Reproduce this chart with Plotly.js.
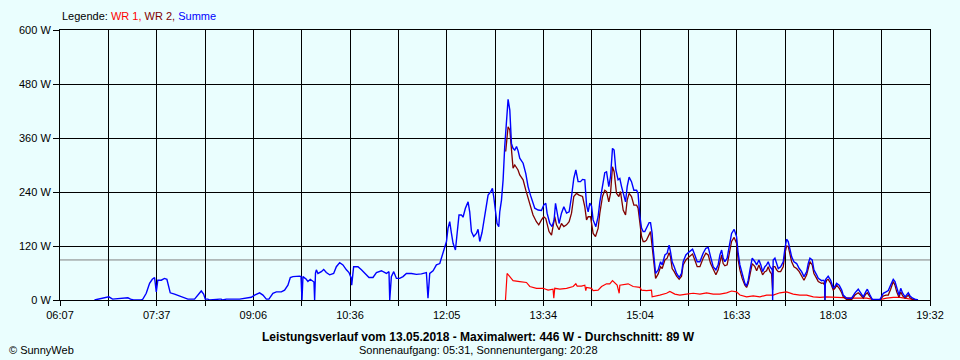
<!DOCTYPE html>
<html><head><meta charset="utf-8">
<script src="https://cdn.plot.ly/plotly-3.0.1.min.js"></script>
<style>html,body{margin:0;padding:0;background:#EAFEFE;} #chart{width:960px;height:360px;}</style>
</head><body><div id="chart"></div>
<script>
// Times are minutes after midnight, values in W
const summeTime = [398.9,402.0,412.2,415.6,429.8,432.3,435.0,442.2,443.7,446.8,449.9,452.4,454.5,456.1,457.5,460.7,463.7,465.9,466.8,469.0,473.0,480.7,485.3,491.5,494.6,497.7,499.9,501.4,503.8,505.4,514.7,516.2,517.4,520.9,533.2,539.4,544.0,547.1,551.7,554.8,557.9,560.3,564.0,567.2,571.8,574.8,577.9,580.1,582.5,588.7,590.0,590.9,591.8,594.9,596.4,598.6,601.0,602.0,602.6,603.4,604.2,605.7,608.8,611.0,613.4,616.5,620.2,622.7,625.8,628.8,632.0,634.4,636.6,636.9,638.7,642.7,645.9,648.9,652.9,656.6,659.8,664.4,669.0,671.4,672.1,673.6,675.8,678.3,681.3,684.4,687.5,692.2,696.8,701.4,706.0,707.5,709.1,712.2,715.3,718.4,721.4,724.6,726.0,727.6,729.2,730.7,732.9,734.4,736.2,738.4,739.9,742.1,744.6,746.1,747.7,749.8,752.3,753.8,755.4,757.5,760.0,763.1,765.6,767.1,768.3,770.2,771.4,773.0,773.9,775.5,777.0,778.5,780.1,781.6,783.2,784.7,786.2,787.8,789.4,790.8,792.4,795.5,798.0,800.1,802.3,804.7,806.3,809.4,812.5,814.6,816.5,817.7,820.2,822.3,824.2,825.5,827.0,828.8,831.0,833.2,835.7,838.1,840.3,842.4,844.3,846.4,848.6,850.5,852.6,854.2,855.7,857.2,858.8,860.3,862.8,864.9,866.5,869.0,871.1,872.7,874.8,876.4,878.2,879.7,881.3,883.4,885.0,886.6,888.7,890.3,891.8,893.6,895.8,898.0,900.5,901.9,903.5,905.1,906.6,908.1,909.7,912.1,913.4,914.9,915.8,916.5,917.4,918.1,920.5,922.7,924.2,926.7,928.8,930.6,931.9,933.4,935.3,937.5,939.9,942.1,943.6,946.1,949.2,952.3,954.4,956.6,959.1,962.1,964.6,966.8,969.0,971.4,973.9,976.0,977.6,979.2,980.6,982.2,984.3,986.2,988.4,990.8,993.0,994.5,996.1,998.2,1000.7,1002.3,1003.8,1005.4,1007.5,1010.0,1011.6,1013.7,1015.5,1017.1,1019.2,1020.8,1022.3,1023.9,1025.4,1026.1,1026.4,1026.9,1028.5,1030.1,1031.6,1033.8,1036.2,1037.8,1039.3,1040.8,1042.4,1044.0,1046.1,1048.6,1051.0,1053.2,1055.4,1057.9,1059.3,1060.9,1063.0,1064.6,1067.1,1068.6,1071.7,1073.2,1074.5,1074.8,1075.2,1076.4,1077.8,1080.1,1082.5,1084.0,1085.6,1088.0,1090.3,1091.7,1094.9,1099.5,1102.6,1105.6,1107.8,1110.3,1112.5,1114.0,1116.5,1118.6,1125.7,1128.8,1131.3,1133.4,1135.6,1138.0,1139.6,1141.2,1143.3,1144.9,1146.7,1148.9,1150.4,1151.9,1153.5,1156.0,1159.0,1160.9];
const summeW = [0,2,7,2,5,2,0,0,2,15,37,46,50,18,44,44,48,46,37,16,13,7,2,2,11,20,13,2,2,0,2,2,0,2,2,4,6,11,16,11,2,2,15,18,18,22,33,50,52,53,52,0,52,46,41,46,41,40,0,60,67,59,63,68,61,56,59,74,83,78,67,61,48,33,74,74,67,59,50,50,61,65,59,63,0,52,63,48,48,52,59,59,57,58,61,4,59,65,78,81,104,130,159,174,148,126,111,141,189,189,184,204,218,196,152,141,148,157,130,150,185,233,241,248,230,185,170,163,196,222,267,341,407,446,422,348,337,333,341,332,315,304,281,252,233,215,204,200,199,211,215,193,170,163,178,215,193,170,193,207,193,196,230,270,289,263,263,268,267,211,196,215,209,178,163,185,218,252,283,285,252,274,337,333,289,267,270,252,230,218,252,273,263,244,244,237,187,160,152,152,160,172,172,148,115,93,65,59,67,85,78,100,104,122,107,85,74,59,50,59,85,100,107,113,100,85,85,104,115,117,96,74,67,78,100,111,93,85,93,119,148,157,141,104,78,59,37,31,44,67,93,85,78,89,78,63,74,78,85,74,67,67,0,89,93,81,70,74,85,115,135,130,115,96,85,81,70,63,52,63,81,93,89,67,56,48,43,44,41,0,45,50,53,44,26,30,37,33,22,11,4,4,16,24,16,7,18,24,11,1,1,15,18,21,33,46,41,26,11,26,15,7,11,16,9,4,1,0];

const wr2Time = [779.4,780.7,781.6,783.2,784.7,786.2,787.8,789.4,790.8,792.4,795.5,798.0,800.1,802.3,804.7,807.8,810.0,812.5,814.6,816.5,817.7,819.5,821.8,823.2,824.8,826.4,828.8,831.0,833.2,835.7,838.1,840.3,842.4,844.9,847.3,850.5,852.6,854.2,855.7,857.9,860.3,862.5,864.9,866.5,869.0,871.1,872.7,874.8,876.4,878.2,879.7,881.9,884.1,885.6,888.1,890.3,891.8,893.6,895.8,898.0,900.5,901.9,903.5,905.1,906.6,908.1,909.7,912.1,913.4,914.9,916.5,918.1,920.5,922.7,924.2,926.7,928.8,930.6,931.9,933.4,935.3,937.5,939.9,942.1,943.6,946.1,949.2,952.3,954.4,956.6,959.1,962.1,964.6,966.8,969.0,971.4,973.9,976.0,977.6,979.2,980.6,982.2,984.3,986.2,988.4,990.8,993.0,994.5,996.1,998.2,1000.7,1002.3,1003.8,1005.4,1007.5,1010.0,1011.6,1013.7,1015.5,1017.1,1019.2,1020.8,1022.3,1023.9,1025.4,1026.4,1026.9,1028.5,1030.1,1031.6,1033.8,1036.2,1037.8,1039.3,1040.8,1042.4,1044.0,1046.1,1048.6,1051.0,1053.2,1055.4,1057.9,1059.3,1060.9,1063.0,1064.6,1067.1,1068.6,1071.7,1073.2,1074.5,1074.8,1075.2,1076.4,1077.8,1080.1,1082.5,1084.0,1085.6,1088.0,1090.3,1091.7,1094.9,1099.5,1102.6,1105.6,1107.8,1110.3,1112.5,1114.0,1116.5,1118.6,1125.7,1128.8,1131.3,1133.4,1135.6,1138.0,1139.6,1141.2,1143.3,1144.9,1146.7,1148.9,1150.4,1151.9,1153.5,1156.0,1159.0,1160.9];
const wr2W = [330,356,385,378,333,293,300,293,289,278,267,244,226,211,189,174,167,178,185,181,170,152,144,163,185,167,156,170,163,167,174,193,230,237,233,230,207,178,185,185,148,141,159,193,230,244,241,218,237,296,285,237,230,241,200,189,222,237,230,211,211,204,170,141,130,130,133,144,152,119,74,48,58,74,70,89,93,105,96,70,63,53,46,53,78,89,96,102,89,74,74,93,104,100,81,67,56,67,85,100,81,76,78,100,130,139,126,89,67,48,33,28,37,56,81,74,65,78,67,56,63,65,74,63,58,22,74,74,67,63,63,74,104,120,119,100,85,74,70,63,53,44,56,70,85,78,59,48,41,37,38,33,0,36,44,46,37,22,26,33,26,16,7,1,1,11,16,11,4,13,16,7,1,1,9,11,11,24,41,33,18,6,18,9,4,7,11,5,1,1,0];

const wr1Time = [779.2,780.7,783.2,786.2,792.4,798.6,801.7,807.9,814.0,818.6,823.2,823.9,824.8,829.5,835.7,841.8,844.3,845.5,849.5,852.6,853.5,854.2,858.8,860.3,864.9,868.1,872.7,875.7,878.2,880.4,882.5,884.4,885.0,892.7,897.3,903.5,905.1,909.7,914.3,914.9,917.4,922.0,928.2,931.3,935.9,940.5,946.7,952.9,959.1,965.3,971.4,977.6,983.8,988.4,993.0,996.1,1002.3,1008.4,1014.6,1020.8,1026.9,1033.1,1039.3,1045.4,1051.6,1057.9,1064.0,1070.2,1076.4,1082.5,1088.7,1094.9,1101.0,1107.2,1113.4,1119.5,1125.7,1131.9,1138.0,1144.2,1150.4,1156.5,1159.0];
const wr1W = [0,59,52,43,41,39,30,26,26,22,24,4,26,24,26,30,36,31,31,33,21,28,26,21,22,30,36,36,43,37,33,15,33,36,30,28,22,21,22,7,9,11,15,19,13,11,13,15,13,16,13,13,16,20,18,11,7,9,7,11,11,16,18,13,11,11,7,6,7,6,5,4,4,4,4,1,1,4,6,6,4,1,0];

const averageW = 89;
const axisStartMin = 367, axisEndMin = 1172;
const xTickLabels = ['06:07','07:37','09:06','10:36','12:05','13:34','15:04','16:33','18:03','19:32'];
const yTickVals = [0,120,240,360,480,600];
const yTickLabels = ['0 W','120 W','240 W','360 W','480 W','600 W'];

const nGrid = (xTickLabels.length - 1) * 2;
const step = (axisEndMin - axisStartMin) / nGrid;
const xTickVals = [], xTickText = [];
for (let k = 0; k <= nGrid; k++) {
  xTickVals.push(+(axisStartMin + k * step).toFixed(4));
  xTickText.push(k % 2 === 0 ? xTickLabels[k / 2] : '');
}

const font = {family: 'Liberation Sans, Arial, sans-serif', size: 11, color: '#000'};
const boldFont = {family: 'Liberation Sans, Arial, sans-serif', size: 12, color: '#000'};
const traces = [
  {x: wr1Time, y: wr1W, mode: 'lines', line: {color: '#FF0000', width: 1.2}, name: 'WR 1'},
  {x: wr2Time, y: wr2W, mode: 'lines', line: {color: '#800000', width: 1.3}, name: 'WR 2'},
  {x: summeTime, y: summeW, mode: 'lines', line: {color: '#0000FF', width: 1.4}, name: 'Summe'}
];
const layout = {
  width: 960, height: 360,
  margin: {l: 60, r: 30, t: 30, b: 60, pad: 0},
  paper_bgcolor: '#EAFEFE', plot_bgcolor: '#EAFEFE',
  showlegend: false, hovermode: false, font: font,
  xaxis: {range: [axisStartMin, axisEndMin], tickmode: 'array', tickvals: xTickVals, ticktext: xTickText,
    showgrid: true, gridcolor: '#000', gridwidth: 1, zeroline: false,
    showline: true, linecolor: '#000', linewidth: 1, mirror: true,
    ticks: 'outside', ticklen: 5, tickcolor: '#000', tickwidth: 1, tickfont: font},
  yaxis: {range: [0, 600], tickmode: 'array', tickvals: yTickVals, ticktext: yTickLabels,
    showgrid: true, gridcolor: '#000', gridwidth: 1, zeroline: false,
    showline: true, linecolor: '#000', linewidth: 1, mirror: true,
    ticks: 'outside', ticklen: 6, tickcolor: '#000', tickwidth: 1, tickfont: font},
  shapes: [{type: 'line', xref: 'paper', x0: 0, x1: 1, yref: 'y', y0: averageW, y1: averageW,
    line: {color: '#808080', width: 1}, layer: 'below'}],
  annotations: [
    {xref: 'paper', yref: 'paper', x: 0, y: 1.052, xanchor: 'left', yanchor: 'middle', showarrow: false, font: font,
     text: 'Legende: <span style="color:#FF0000">WR 1,</span> <span style="color:#800000">WR 2,</span> <span style="color:#0000FF">Summe</span>'},
    {xref: 'paper', yref: 'paper', x: 0.4816, y: -0.136, xanchor: 'center', yanchor: 'middle', showarrow: false, font: boldFont,
     text: '<b>Leistungsverlauf vom 13.05.2018 - Maximalwert: 446 W - Durchschnitt: ' + averageW + ' W</b>'},
    {xref: 'paper', yref: 'paper', x: 0.4816, y: -0.184, xanchor: 'center', yanchor: 'middle', showarrow: false, font: font,
     text: 'Sonnenaufgang: 05:31, Sonnenuntergang: 20:28'},
    {xref: 'paper', yref: 'paper', x: -0.0613, y: -0.184, xanchor: 'left', yanchor: 'middle', showarrow: false, font: font,
     text: '© SunnyWeb'}
  ]
};
Plotly.newPlot('chart', traces, layout, {staticPlot: true, displayModeBar: false});
</script></body></html>
